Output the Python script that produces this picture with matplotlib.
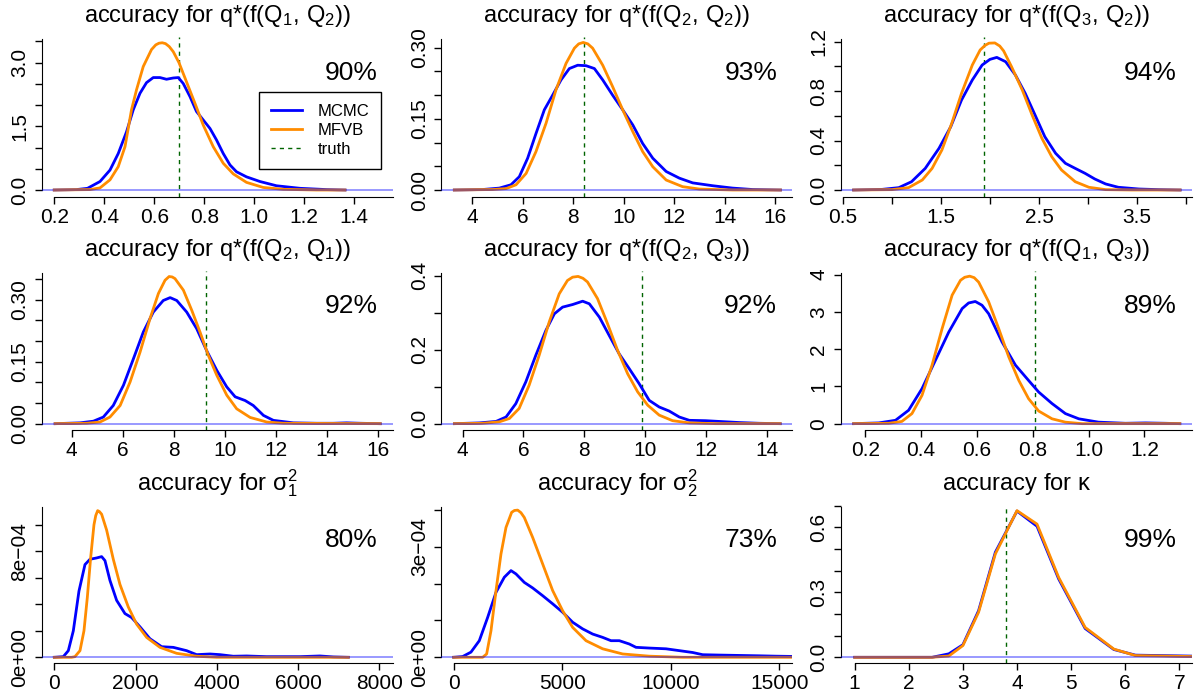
import matplotlib
matplotlib.use('Agg')
import matplotlib.pyplot as plt
from matplotlib.lines import Line2D

plt.rcParams['font.family'] = ['Liberation Sans', 'DejaVu Sans']
plt.rcParams['mathtext.fontset'] = 'custom'
plt.rcParams['mathtext.rm'] = 'Liberation Sans'
plt.rcParams['mathtext.it'] = 'Liberation Sans:italic'
plt.rcParams['mathtext.default'] = 'regular'

# ---- data (density curves) ----
# panel 1: f(Q1, Q2)
p1_mcmc_x = [0.2, 0.289, 0.333, 0.383, 0.423, 0.456, 0.489, 0.516, 0.543, 0.569, 0.596, 0.623, 0.649,
             0.676, 0.696, 0.716, 0.743, 0.769, 0.796, 0.823, 0.849, 0.876, 0.903, 0.929, 0.969, 1.023,
             1.089, 1.183, 1.289, 1.363]
p1_mcmc_y = [0, 0.01, 0.04, 0.20, 0.47, 0.86, 1.37, 1.89, 2.28, 2.53, 2.65, 2.65, 2.61,
             2.64, 2.65, 2.51, 2.20, 1.85, 1.65, 1.45, 1.18, 0.86, 0.59, 0.43, 0.31, 0.20,
             0.10, 0.04, 0.01, 0]
p1_mfvb_x = [0.2, 0.343, 0.383, 0.423, 0.456, 0.483, 0.509, 0.529, 0.556, 0.589, 0.606, 0.619, 0.632,
             0.645, 0.660, 0.676, 0.699, 0.729, 0.763, 0.796, 0.836, 0.876, 0.916, 0.969, 1.036, 1.116,
             1.249, 1.363]
p1_mfvb_y = [0, 0.01, 0.05, 0.24, 0.55, 1.02, 1.89, 2.36, 2.91, 3.31, 3.42, 3.46, 3.47,
             3.45, 3.38, 3.26, 3.00, 2.55, 2.04, 1.53, 1.02, 0.63, 0.38, 0.18, 0.06, 0.016,
             0, 0]

# panel 2: f(Q2, Q2)
p2_mcmc_x = [3.30, 4.42, 5.08, 5.54, 5.87, 6.20, 6.53, 6.86, 7.19, 7.52, 7.85, 8.18, 8.51, 8.84,
             9.17, 9.56, 9.96, 10.36, 10.75, 11.15, 11.68, 12.20, 12.73, 13.52, 14.31, 15.10, 16.20]
p2_mcmc_y = [0, 0.001, 0.004, 0.011, 0.028, 0.067, 0.119, 0.169, 0.200, 0.232, 0.256, 0.263, 0.262, 0.256,
             0.232, 0.200, 0.169, 0.137, 0.098, 0.067, 0.039, 0.025, 0.015, 0.009, 0.004, 0.001, 0]
p2_mfvb_x = [3.30, 4.82, 5.35, 5.74, 6.14, 6.53, 6.93, 7.32, 7.72, 8.05, 8.22, 8.40, 8.58, 8.77, 9.17,
             9.56, 9.96, 10.36, 10.75, 11.15, 11.68, 12.33, 12.99, 14.31, 16.20]
p2_mfvb_y = [0, 0.001, 0.003, 0.011, 0.035, 0.081, 0.141, 0.211, 0.267, 0.299, 0.308, 0.311, 0.308,
             0.299, 0.263, 0.218, 0.169, 0.123, 0.081, 0.049, 0.021, 0.007, 0.002, 0, 0]

# panel 3: f(Q3, Q2)
p3_mcmc_x = [0.609, 0.90, 1.07, 1.20, 1.34, 1.48, 1.60, 1.71, 1.82, 1.92, 2.00, 2.07, 2.16, 2.26,
             2.36, 2.46, 2.56, 2.67, 2.77, 2.87, 2.97, 3.07, 3.18, 3.31, 3.52, 3.72, 3.94]
p3_mcmc_y = [0, 0.005, 0.019, 0.067, 0.175, 0.337, 0.512, 0.728, 0.890, 1.011, 1.057, 1.073, 1.038, 0.930,
             0.782, 0.607, 0.431, 0.297, 0.216, 0.175, 0.135, 0.089, 0.049, 0.022, 0.008, 0.003, 0]
p3_mfvb_x = [0.609, 1.0, 1.17, 1.31, 1.41, 1.51, 1.61, 1.71, 1.82, 1.90, 1.95, 1.99, 2.05, 2.10, 2.14,
             2.22, 2.33, 2.43, 2.53, 2.63, 2.73, 2.87, 3.01, 3.18, 3.45, 3.94]
p3_mfvb_y = [0, 0.003, 0.019, 0.081, 0.175, 0.324, 0.539, 0.782, 1.011, 1.133, 1.170, 1.188, 1.190,
             1.165, 1.125, 0.998, 0.809, 0.607, 0.418, 0.270, 0.162, 0.067, 0.022, 0.003, 0, 0]

# panel 4: f(Q2, Q1)
p4_mcmc_x = [3.35, 4.33, 4.85, 5.24, 5.63, 6.03, 6.42, 6.81, 7.20, 7.59, 7.86, 8.12, 8.51, 8.90,
             9.29, 9.69, 10.08, 10.41, 10.80, 11.12, 11.52, 11.91, 12.69, 13.61, 14.26, 14.78, 15.31, 16.1]
p4_mcmc_y = [0, 0.002, 0.006, 0.016, 0.044, 0.093, 0.157, 0.222, 0.270, 0.298, 0.305, 0.298, 0.270, 0.230,
             0.177, 0.129, 0.089, 0.065, 0.056, 0.044, 0.020, 0.008, 0.002, 0.001, 0.001, 0.002, 0.001, 0]
p4_mfvb_x = [3.35, 4.59, 5.11, 5.50, 5.90, 6.29, 6.68, 7.07, 7.40, 7.66, 7.82, 7.94, 8.05, 8.38, 8.71,
             9.03, 9.36, 9.69, 10.08, 10.47, 11.0, 11.65, 12.30, 16.1]
p4_mfvb_y = [0, 0.001, 0.004, 0.016, 0.044, 0.101, 0.173, 0.254, 0.315, 0.347, 0.356, 0.355, 0.351,
             0.323, 0.274, 0.222, 0.165, 0.117, 0.069, 0.036, 0.015, 0.004, 0.001, 0]

# panel 5: f(Q2, Q3)
p5_mcmc_x = [3.73, 4.55, 5.10, 5.43, 5.75, 6.08, 6.41, 6.74, 7.02, 7.29, 7.62, 7.95, 8.17, 8.50,
             8.82, 9.15, 9.48, 9.81, 10.14, 10.47, 10.80, 11.13, 11.46, 12.0, 12.44, 13.10, 13.76, 14.45]
p5_mcmc_y = [0, 0.002, 0.006, 0.018, 0.054, 0.113, 0.185, 0.252, 0.297, 0.315, 0.322, 0.331, 0.324, 0.288,
             0.239, 0.189, 0.149, 0.108, 0.063, 0.045, 0.034, 0.018, 0.009, 0.008, 0.006, 0.003, 0.001, 0]
p5_mfvb_x = [3.73, 4.66, 5.21, 5.54, 5.86, 6.19, 6.52, 6.85, 7.18, 7.45, 7.62, 7.80, 7.96, 8.11, 8.44,
             8.77, 9.10, 9.43, 9.76, 10.09, 10.47, 10.91, 11.46, 12.33, 14.45]
p5_mfvb_y = [0, 0.001, 0.005, 0.014, 0.041, 0.104, 0.185, 0.275, 0.351, 0.387, 0.396, 0.398, 0.393,
             0.383, 0.338, 0.270, 0.198, 0.135, 0.086, 0.050, 0.023, 0.008, 0.002, 0, 0]

# panel 6: f(Q1, Q3)
p6_mcmc_x = [0.158, 0.248, 0.308, 0.355, 0.403, 0.451, 0.499, 0.547, 0.570, 0.594, 0.618, 0.642, 0.690,
             0.738, 0.785, 0.821, 0.869, 0.917, 0.965, 1.036, 1.132, 1.204, 1.275, 1.327]
p6_mcmc_y = [0, 0.02, 0.09, 0.36, 0.94, 1.70, 2.46, 3.09, 3.24, 3.28, 3.18, 2.95, 2.19,
             1.57, 1.16, 0.85, 0.54, 0.27, 0.13, 0.04, 0.01, 0.02, 0.01, 0]
p6_mfvb_x = [0.158, 0.284, 0.331, 0.367, 0.403, 0.439, 0.475, 0.511, 0.541, 0.556, 0.574, 0.590, 0.606,
             0.642, 0.678, 0.714, 0.750, 0.785, 0.821, 0.869, 0.917, 0.977, 1.327]
p6_mfvb_y = [0, 0.01, 0.06, 0.27, 0.76, 1.57, 2.55, 3.45, 3.85, 3.93, 3.96, 3.92, 3.80,
             3.27, 2.55, 1.79, 1.16, 0.67, 0.34, 0.13, 0.04, 0, 0]

# panel 7: sigma_1^2
p7_mcmc_x = [0, 222, 345, 468, 607, 755, 878, 1042, 1165, 1247, 1370, 1534, 1739, 1903, 2109, 2355,
             2642, 2929, 3257, 3503, 3832, 4078, 4406, 4734, 5226, 6047, 6539, 6867, 7237]
p7_mcmc_y = [0, 5e-6, 5e-5, 2.0e-4, 5.0e-4, 7.0e-4, 7.4e-4, 7.5e-4, 7.6e-4, 7.3e-4, 5.8e-4, 4.3e-4,
             3.3e-4, 3.0e-4, 2.3e-4, 1.4e-4, 8.0e-5, 7.5e-5, 5.0e-5, 2.0e-5, 2.5e-5, 2.0e-5, 8e-6,
             1e-5, 5e-6, 5e-6, 1e-5, 3e-6, 0]
p7_mfvb_x = [0, 427, 508, 632, 730, 812, 894, 976, 1020, 1067, 1110, 1165, 1288, 1452, 1616, 1821,
             2027, 2273, 2601, 3011, 3503, 3996, 7237]
p7_mfvb_y = [0, 0, 5e-6, 5.0e-5, 2.0e-4, 4.5e-4, 7.5e-4, 1.0e-3, 1.07e-3, 1.107e-3, 1.10e-3, 1.08e-3,
             9.6e-4, 7.4e-4, 5.5e-4, 3.8e-4, 2.5e-4, 1.5e-4, 7.5e-5, 3e-5, 8e-6, 0, 0]

# panel 8: sigma_2^2
p8_mcmc_x = [0, 415, 798, 1182, 1566, 1950, 2334, 2641, 2871, 3255, 3639, 4100, 4560, 5021, 5482,
             5942, 6403, 6863, 7247, 7631, 8092, 8399, 9013, 9781, 10395, 11009, 11470, 12237,
             13158, 14080, 14847, 15922]
p8_mcmc_y = [0, 2e-6, 1.4e-5, 4.5e-5, 1.08e-4, 1.76e-4, 2.17e-4, 2.35e-4, 2.26e-4, 2.03e-4, 1.88e-4,
             1.67e-4, 1.45e-4, 1.22e-4, 9.5e-5, 7.7e-5, 6.3e-5, 5.4e-5, 4.5e-5, 4.5e-5, 3.6e-5,
             2.7e-5, 2.5e-5, 2.3e-5, 1.8e-5, 1.3e-5, 7e-6, 6e-6, 5e-6, 4e-6, 3e-6, 2e-6]
p8_mfvb_x = [0, 1336, 1520, 1720, 1950, 2180, 2411, 2672, 2800, 2948, 3100, 3255, 3639, 4100, 4560,
             5021, 5482, 6096, 6863, 7785, 9013, 10548, 15922]
p8_mfvb_y = [0, 0, 9e-6, 7.2e-5, 1.8e-4, 2.8e-4, 3.52e-4, 3.93e-4, 3.98e-4, 3.99e-4, 3.92e-4, 3.79e-4,
             3.25e-4, 2.53e-4, 1.81e-4, 1.26e-4, 8.1e-5, 4.5e-5, 2.3e-5, 9e-6, 3e-6, 0, 0]

# panel 9: kappa
p9_x = [1, 2.43, 2.74, 3.0, 3.29, 3.60, 4.0, 4.37, 4.77, 5.26, 5.79, 6.19, 7.36]
p9_mcmc_y = [0, 0, 0.016, 0.058, 0.215, 0.485, 0.675, 0.605, 0.362, 0.133, 0.036, 0.010, 0.005]
p9_mfvb_y = [0, 0, 0.006, 0.054, 0.208, 0.477, 0.677, 0.615, 0.369, 0.138, 0.038, 0.008, 0.003]

titles = [r'accuracy for q*(f$\left(Q_1,\,Q_2\right)$)',
          r'accuracy for q*(f$\left(Q_2,\,Q_2\right)$)',
          r'accuracy for q*(f$\left(Q_3,\,Q_2\right)$)',
          r'accuracy for q*(f$\left(Q_2,\,Q_1\right)$)',
          r'accuracy for q*(f$\left(Q_2,\,Q_3\right)$)',
          r'accuracy for q*(f$\left(Q_1,\,Q_3\right)$)',
          r'accuracy for $\sigma_1^2$',
          r'accuracy for $\sigma_2^2$',
          r'accuracy for $\kappa$']
accuracy = ['90%', '93%', '94%', '92%', '92%', '89%', '80%', '73%', '99%']
truth = [0.70, 8.42, 1.935, 9.25, 9.90, 0.807, None, None, 3.80]

xticks = [[0.2, 0.4, 0.6, 0.8, 1.0, 1.2, 1.4], [4, 6, 8, 10, 12, 14, 16],
          [0.5, 1.0, 1.5, 2.0, 2.5, 3.0, 3.5, 4.0], [4, 6, 8, 10, 12, 14, 16],
          [4, 6, 8, 10, 12, 14], [0.2, 0.4, 0.6, 0.8, 1.0, 1.2],
          [0, 2000, 4000, 6000, 8000], [0, 5000, 10000, 15000], [1, 2, 3, 4, 5, 6, 7]]
xlabels = [['0.2', '0.4', '0.6', '0.8', '1.0', '1.2', '1.4'], ['4', '6', '8', '10', '12', '14', '16'],
           ['0.5', '', '1.5', '', '2.5', '', '3.5', ''], ['4', '6', '8', '10', '12', '14', '16'],
           ['4', '6', '8', '10', '12', '14'], ['0.2', '0.4', '0.6', '0.8', '1.0', '1.2'],
           ['0', '2000', '4000', '6000', '8000'], ['0', '5000', '10000', '15000'],
           ['1', '2', '3', '4', '5', '6', '7']]
yticks = [[0, 0.5, 1.0, 1.5, 2.0, 2.5, 3.0, 3.5], [0, 0.05, 0.10, 0.15, 0.20, 0.25, 0.30],
          [0, 0.2, 0.4, 0.6, 0.8, 1.0, 1.2], [0, 0.05, 0.10, 0.15, 0.20, 0.25, 0.30, 0.35],
          [0, 0.1, 0.2, 0.3, 0.4], [0, 1, 2, 3, 4],
          [0, 2e-4, 4e-4, 6e-4, 8e-4, 1e-3], [0, 1e-4, 2e-4, 3e-4, 4e-4],
          [0, 0.1, 0.2, 0.3, 0.4, 0.5, 0.6, 0.7]]
ylabels = [['0.0', '', '', '1.5', '', '', '3.0', ''], ['0.00', '', '', '0.15', '', '', '0.30'],
           ['0.0', '', '0.4', '', '0.8', '', '1.2'], ['0.00', '', '', '0.15', '', '', '0.30', ''],
           ['0.0', '', '0.2', '', '0.4'], ['0', '1', '2', '3', '4'],
           ['0e+00', '', '', '', '8e\u221204', ''], ['0e+00', '', '', '3e\u221204', ''],
           ['0.0', '', '', '0.3', '', '', '0.6', '']]

xlims = [(0.151, 1.555), (2.786, 16.67), (0.477, 4.058), (2.835, 16.6), (3.30, 14.85),
         (0.1115, 1.3695), (-303, 8337), (-567, 15600), (0.741, 7.229)]
ylims = [(-0.153, 3.606), (-0.0137, 0.3225), (-0.0526, 1.238), (-0.0141, 0.3706), (-0.0158, 0.414),
         (-0.157, 4.112), (-4.53e-5, 1.1535e-3), (-1.63e-5, 4.142e-4), (-0.0277, 0.7054)]

mcmc = [(p1_mcmc_x, p1_mcmc_y), (p2_mcmc_x, p2_mcmc_y), (p3_mcmc_x, p3_mcmc_y),
        (p4_mcmc_x, p4_mcmc_y), (p5_mcmc_x, p5_mcmc_y), (p6_mcmc_x, p6_mcmc_y),
        (p7_mcmc_x, p7_mcmc_y), (p8_mcmc_x, p8_mcmc_y), (p9_x, p9_mcmc_y)]
mfvb = [(p1_mfvb_x, p1_mfvb_y), (p2_mfvb_x, p2_mfvb_y), (p3_mfvb_x, p3_mfvb_y),
        (p4_mfvb_x, p4_mfvb_y), (p5_mfvb_x, p5_mfvb_y), (p6_mfvb_x, p6_mfvb_y),
        (p7_mfvb_x, p7_mfvb_y), (p8_mfvb_x, p8_mfvb_y), (p9_x, p9_mfvb_y)]

W, H = 1198, 696
fig = plt.figure(figsize=(W / 100, H / 100), dpi=100)

# plot regions in pixels (top, bottom) per row
rows_px = [(37, 196.5), (270.5, 429.5), (504.5, 663.3)]
col_w = W / 3

for i in range(9):
    r, c = divmod(i, 3)
    left = c * col_w + 42
    top, bot = rows_px[r]
    ax = fig.add_axes([left / W, 1 - bot / H, 351 / W, (bot - top) / H])

    ax.plot(*mcmc[i], color='#0000FF', lw=2, zorder=2, solid_joinstyle='round')
    ax.plot(*mfvb[i], color='#FF8C00', lw=2, zorder=2.1, solid_joinstyle='round')
    ax.axhline(0, color='#0000FF', alpha=0.4, lw=1.4, zorder=3)
    if truth[i] is not None:
        ax.axvline(truth[i], color='#006400', lw=1, dashes=(3, 3), zorder=1)

    ax.set_xlim(xlims[i])
    ax.set_ylim(ylims[i])
    ax.set_xticks(xticks[i])
    ax.set_xticklabels(xlabels[i], fontsize=15)
    ax.set_yticks(yticks[i])
    ax.set_yticklabels(ylabels[i], fontsize=15, rotation=90, va='center')
    ax.tick_params(direction='out', length=5, width=1, pad=3)
    ax.tick_params(axis='y', pad=4)

    for s in ['top', 'right']:
        ax.spines[s].set_visible(False)
    y0, y1 = ylims[i]
    ax.spines['left'].set_bounds(0, y1 - 0.015 * (y1 - y0))
    ax.spines['bottom'].set_bounds(xticks[i][0], xlims[i][1])

    ax.set_title(titles[i], fontsize=17, pad=10.5)
    ax.text(0.957, 0.775, accuracy[i], transform=ax.transAxes, ha='right', va='center', fontsize=19)

    if i == 0:
        handles = [Line2D([], [], color='#0000FF', lw=2),
                   Line2D([], [], color='#FF8C00', lw=2),
                   Line2D([], [], color='#006400', lw=1, dashes=(3, 3))]
        leg = ax.legend(handles, ['MCMC', 'MFVB', 'truth'], loc='upper left',
                        bbox_to_anchor=(0.618, 0.655), fontsize=12, frameon=True,
                        fancybox=False, edgecolor='black', framealpha=1,
                        handlelength=1.9, handletextpad=0.9, borderpad=0.7, labelspacing=0.25,
                        borderaxespad=0)
        leg.get_frame().set_linewidth(1)

fig.savefig('out.png', dpi=100)
